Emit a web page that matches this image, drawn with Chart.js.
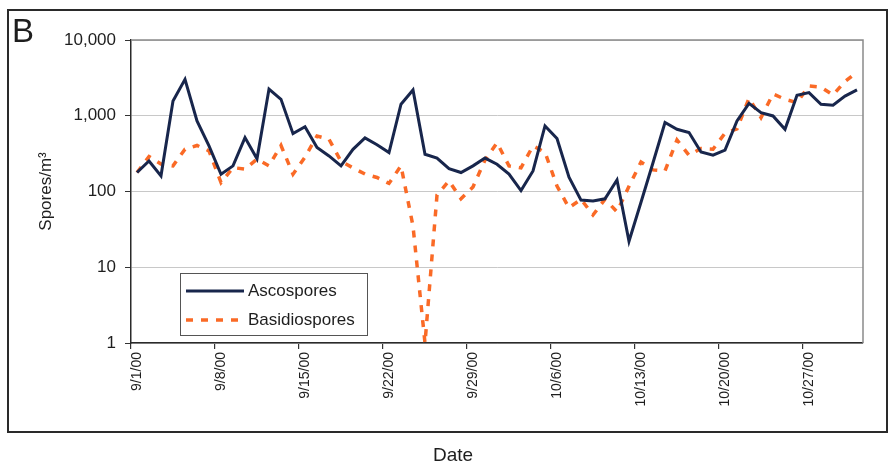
<!DOCTYPE html>
<html>
<head>
<meta charset="utf-8">
<script src="https://cdn.jsdelivr.net/npm/chart.js@4.4.1/dist/chart.umd.min.js"></script>
<style>
  html, body { margin: 0; padding: 0; background: #fff; }
  canvas { display: block; }
</style>
</head>
<body>
<canvas id="spores" width="890" height="467"></canvas>
<script>
// Daily sampling dates, 1 Sep – 31 Oct 2000
const dates = [
  '9/1/00','9/2/00','9/3/00','9/4/00','9/5/00','9/6/00','9/7/00','9/8/00','9/9/00','9/10/00',
  '9/11/00','9/12/00','9/13/00','9/14/00','9/15/00','9/16/00','9/17/00','9/18/00','9/19/00','9/20/00',
  '9/21/00','9/22/00','9/23/00','9/24/00','9/25/00','9/26/00','9/27/00','9/28/00','9/29/00','9/30/00',
  '10/1/00','10/2/00','10/3/00','10/4/00','10/5/00','10/6/00','10/7/00','10/8/00','10/9/00','10/10/00',
  '10/11/00','10/12/00','10/13/00','10/14/00','10/15/00','10/16/00','10/17/00','10/18/00','10/19/00','10/20/00',
  '10/21/00','10/22/00','10/23/00','10/24/00','10/25/00','10/26/00','10/27/00','10/28/00','10/29/00','10/30/00',
  '10/31/00'
];

// Spore concentrations (spores per cubic metre)
const ascospores = [
  178, 253, 161, 1570, 3030, 853, 400, 169, 218, 515,
  270, 2250, 1650, 580, 715, 381, 295, 218, 360, 510,
  415, 327, 1420, 2190, 310, 276, 200, 178, 218, 276,
  229, 170, 103, 187, 735, 500, 155, 77, 75, 80,
  142, 22, 72, 240, 813, 663, 600, 333, 301, 351,
  853, 1460, 1100, 994, 663, 1860, 2020, 1420, 1380, 1820,
  2190
];
const basidiospores = [
  178, 290, 230, 218, 362, 405, 344, 131, 207, 197,
  267, 218, 405, 169, 285, 540, 490, 250, 205, 170,
  153, 128, 218, 35, 1, 90, 138, 80, 115, 260,
  440, 218, 205, 400, 330, 118, 61, 79, 49, 79,
  54, 117, 245, 193, 187, 480, 301, 369, 361, 590,
  670, 1700, 946, 1940, 1650, 1494, 2470, 2380, 1880, 2830,
  3780
];

const yTicks = [1, 10, 100, 1000, 10000];
const weekStep = 7;

const FONT = '"Liberation Sans", Arial, Helvetica, sans-serif';
const NAVY = '#18264c';
const ORANGE = '#fa6a26';
const INK = '#1e1e1e';

function withCommas(v) {
  return String(v).replace(/\B(?=(\d{3})+(?!\d))/g, ',');
}

// Panel frame, panel letter, x-axis caption, plot border and inset legend
const panelDecor = {
  id: 'panelDecor',
  beforeDraw(chart) {
    const ctx = chart.ctx;
    ctx.save();
    ctx.fillStyle = '#ffffff';
    ctx.fillRect(0, 0, chart.width, chart.height);
    ctx.restore();
  },
  beforeDatasetsDraw(chart) {
    const { ctx, chartArea: a } = chart;
    ctx.save();
    ctx.strokeStyle = '#8a8a8a';
    ctx.lineWidth = 1.5;
    ctx.beginPath();
    ctx.moveTo(a.left, a.top);
    ctx.lineTo(a.right, a.top);
    ctx.lineTo(a.right, a.bottom);
    ctx.stroke();
    ctx.restore();
  },
  afterDraw(chart) {
    const ctx = chart.ctx;
    ctx.save();
    // outer panel box
    ctx.strokeStyle = '#2a2a2a';
    ctx.lineWidth = 2;
    ctx.strokeRect(8, 10, 879, 422);

    // panel letter
    ctx.fillStyle = INK;
    ctx.font = '33px ' + FONT;
    ctx.textAlign = 'left';
    ctx.textBaseline = 'alphabetic';
    ctx.fillText('B', 12, 42);

    // x-axis caption
    ctx.font = '19px ' + FONT;
    ctx.textAlign = 'center';
    ctx.textBaseline = 'middle';
    ctx.fillText('Date', 453, 456);

    // legend
    const box = { x: 180, y: 273, w: 187, h: 62 };
    ctx.fillStyle = '#ffffff';
    ctx.fillRect(box.x, box.y, box.w, box.h);
    ctx.strokeStyle = '#555555';
    ctx.lineWidth = 1;
    ctx.strokeRect(box.x + 0.5, box.y + 0.5, box.w, box.h);
    const rows = [291, 320];
    chart.data.datasets.forEach((ds, i) => {
      const y = rows[i];
      ctx.strokeStyle = ds.borderColor;
      ctx.lineWidth = ds.borderWidth;
      ctx.setLineDash(ds.borderDash || []);
      ctx.beginPath();
      ctx.moveTo(186, y);
      ctx.lineTo(244, y);
      ctx.stroke();
      ctx.setLineDash([]);
      ctx.fillStyle = INK;
      ctx.font = '17px ' + FONT;
      ctx.textAlign = 'left';
      ctx.textBaseline = 'middle';
      ctx.fillText(ds.label, 248, y);
    });
    ctx.restore();
  }
};

new Chart(document.getElementById('spores'), {
  type: 'line',
  data: {
    labels: dates,
    datasets: [
      {
        label: 'Ascospores',
        data: ascospores,
        borderColor: NAVY,
        borderWidth: 3,
        pointRadius: 0,
        tension: 0,
        fill: false
      },
      {
        label: 'Basidiospores',
        data: basidiospores,
        borderColor: ORANGE,
        borderWidth: 3.5,
        borderDash: [7, 8],
        pointRadius: 0,
        tension: 0,
        fill: false
      }
    ]
  },
  options: {
    responsive: false,
    animation: false,
    devicePixelRatio: 1,
    layout: { padding: { left: 0, top: 40, right: 27, bottom: 0 } },
    plugins: {
      legend: { display: false },
      tooltip: { enabled: false }
    },
    scales: {
      x: {
        type: 'category',
        offset: true,
        grid: {
          offset: true,
          drawOnChartArea: false,
          tickLength: 6,
          lineWidth: 1.2,
          color: c => (c.index % weekStep === 0 ? '#333333' : 'rgba(0,0,0,0)')
        },
        border: { color: '#2a2a2a', width: 1.5 },
        ticks: {
          autoSkip: false,
          minRotation: 90,
          maxRotation: 90,
          padding: 3,
          color: INK,
          font: { family: FONT, size: 14 },
          callback: (v, i) => (i % weekStep === 0 ? dates[i] : '')
        },
        afterFit: s => { s.height = 124; }
      },
      y: {
        type: 'logarithmic',
        min: 1,
        max: 10000,
        afterBuildTicks: s => { s.ticks = yTicks.map(v => ({ value: v })); },
        grid: {
          color: '#c8c8c8',
          lineWidth: 1,
          tickLength: 6,
          tickColor: '#333333'
        },
        border: { color: '#2a2a2a', width: 1.5 },
        ticks: {
          padding: 9,
          color: INK,
          font: { family: FONT, size: 17 },
          callback: v => withCommas(v)
        },
        title: {
          display: true,
          text: 'Spores/m³',
          color: INK,
          font: { family: FONT, size: 17 },
          padding: { top: 36, bottom: 0 }
        },
        afterFit: s => { s.width = 131; }
      }
    }
  },
  plugins: [panelDecor]
});
</script>
</body>
</html>
